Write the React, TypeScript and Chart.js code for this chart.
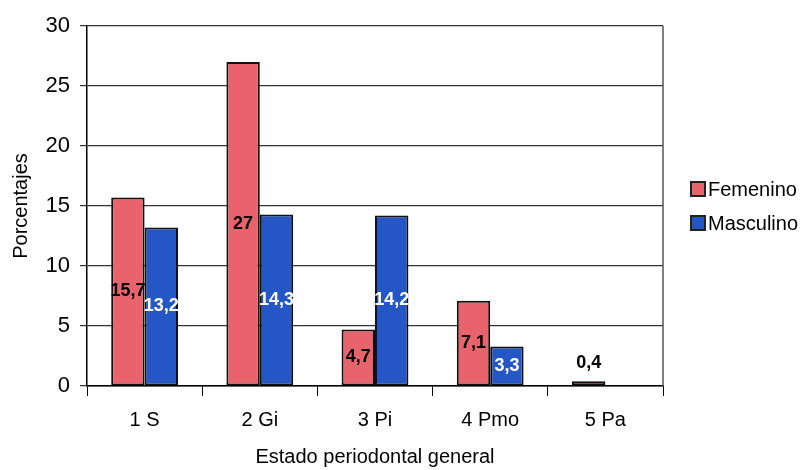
import React, { useEffect, useRef } from "react";
import { Chart, registerables } from "chart.js";

Chart.register(...registerables);

const categories = ["1 S", "2 Gi", "3 Pi", "4 Pmo", "5 Pa"];
const femenino = [15.7, 27, 4.7, 7.1, 0.4];
const masculino = [13.2, 14.3, 14.2, 3.3, 0];
const seriesNames = ["Femenino", "Masculino"];
const yTicks = [0, 5, 10, 15, 20, 25, 30];

const FONT = "'Liberation Sans', Arial, sans-serif";
const RED = "#E8636B";
const BLUE = "#2556C6";

const labelsPlugin = {
  id: "barLabels",
  afterDatasetsDraw(chart: any) {
    const ctx = chart.ctx;
    ctx.save();
    ctx.font = `bold 18px ${FONT}`;
    ctx.textAlign = "center";
    ctx.textBaseline = "middle";
    chart.data.datasets.forEach((ds: any, di: number) => {
      const meta = chart.getDatasetMeta(di);
      meta.data.forEach((bar: any, i: number) => {
        const v = ds.data[i];
        if (!v) return;
        const txt = String(v).replace(".", ",");
        const h = Math.abs(bar.base - bar.y);
        let y = (bar.y + bar.base) / 2;
        let color = di === 0 ? "#000" : "#fff";
        if (h < 20) {
          y = bar.y - 18;
          color = "#000";
        }
        ctx.fillStyle = color;
        ctx.fillText(txt, bar.x, y);
      });
    });
    ctx.restore();
  },
};

const framePlugin = {
  id: "frame",
  afterDraw(chart: any) {
    const { ctx, chartArea } = chart;
    ctx.save();
    ctx.strokeStyle = "#555";
    ctx.lineWidth = 1.5;
    ctx.beginPath();
    ctx.moveTo(chartArea.right, chartArea.top);
    ctx.lineTo(chartArea.right, chartArea.bottom);
    ctx.stroke();
    // legend
    const colors = [RED, BLUE];
    const mid = (chartArea.top + chartArea.bottom) / 2;
    const x = chartArea.right + 28;
    ctx.font = `20px ${FONT}`;
    ctx.textBaseline = "middle";
    ctx.textAlign = "left";
    seriesNames.forEach((name, i) => {
      const cy = mid - 17 + i * 34;
      ctx.fillStyle = colors[i];
      ctx.fillRect(x, cy - 7, 14, 14);
      ctx.strokeStyle = "#222";
      ctx.lineWidth = 2;
      ctx.strokeRect(x, cy - 7, 14, 14);
      ctx.fillStyle = "#000";
      ctx.fillText(name, x + 17, cy + 1);
    });
    ctx.restore();
  },
};

export default function App() {
  const ref = useRef<HTMLCanvasElement>(null);
  useEffect(() => {
    if (!ref.current) return;
    const chart = new Chart(ref.current, {
      type: "bar",
      data: {
        labels: categories,
        datasets: [
          {
            label: seriesNames[0],
            data: femenino,
            backgroundColor: RED,
            borderColor: "#111",
            borderWidth: 2,
            borderSkipped: false,
          },
          {
            label: seriesNames[1],
            data: masculino,
            backgroundColor: BLUE,
            borderColor: "#111",
            borderWidth: 2,
            borderSkipped: false,
          },
        ],
      },
      options: {
        animation: false,
        responsive: false,
        layout: { padding: { left: 0, top: 26, right: 144, bottom: 0 } },
        datasets: { bar: { categoryPercentage: 0.58, barPercentage: 1 } },
        plugins: { legend: { display: false }, tooltip: { enabled: false } },
        scales: {
          x: {
            grid: {
              display: true,
              drawOnChartArea: false,
              drawTicks: true,
              tickLength: 10,
              color: "#000",
              offset: true,
            },
            border: { display: true, color: "#000", width: 1.5 },
            ticks: { color: "#000", font: { family: FONT, size: 20 }, padding: 12 },
            title: {
              display: true,
              text: "Estado periodontal general",
              color: "#000",
              font: { family: FONT, size: 20 },
              padding: { top: 0, bottom: 1 },
            },
            afterFit(scale: any) {
              scale.height = 84;
            },
          },
          y: {
            min: 0,
            max: 30,
            afterBuildTicks(scale: any) {
              scale.ticks = yTicks.map((v) => ({ value: v }));
            },
            grid: {
              display: true,
              color: "#333",
              lineWidth: 1.2,
              drawTicks: true,
              tickLength: 7,
            },
            border: { display: true, color: "#000", width: 1.5 },
            ticks: { color: "#000", font: { family: FONT, size: 22 }, padding: 10 },
            title: {
              display: true,
              text: "Porcentajes",
              color: "#000",
              font: { family: FONT, size: 20 },
              padding: { top: 9, bottom: 0 },
            },
            afterFit(scale: any) {
              scale.width = 87;
            },
          },
        },
      },
      plugins: [labelsPlugin, framePlugin],
    });
    return () => chart.destroy();
  }, []);
  return (
    <div style={{ position: "fixed", left: 0, top: 0, width: 807, height: 470, background: "#fff" }}>
      <canvas ref={ref} width={807} height={470} />
    </div>
  );
}
